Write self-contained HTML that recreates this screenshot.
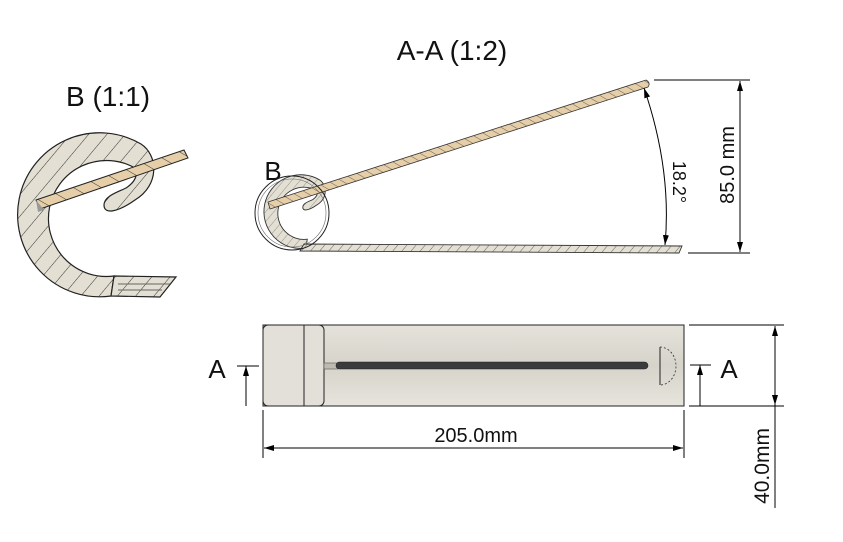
<!DOCTYPE html>
<html><head><meta charset="utf-8"><style>
html,body{margin:0;padding:0;background:#fff;}
svg{display:block;}
text{font-family:"Liberation Sans",Arial,sans-serif;fill:#111;}
</style></head><body>
<svg width="843" height="542" viewBox="0 0 843 542" xmlns="http://www.w3.org/2000/svg">
<defs>
<pattern id="h1" width="14" height="14" patternUnits="userSpaceOnUse" patternTransform="rotate(40)">
<rect width="14" height="14" fill="#e3dfd3"/><line x1="0" y1="0" x2="0" y2="14" stroke="#333" stroke-width="1"/></pattern>
<pattern id="h2" width="7" height="7" patternUnits="userSpaceOnUse" patternTransform="rotate(40)">
<rect width="7" height="7" fill="#e3dfd3"/><line x1="0" y1="0" x2="0" y2="7" stroke="#444" stroke-width="0.8"/></pattern>
<pattern id="w1" width="14" height="14" patternUnits="userSpaceOnUse" patternTransform="rotate(-60)">
<rect width="14" height="14" fill="#e6cfa8"/><line x1="0" y1="0" x2="0" y2="14" stroke="#333" stroke-width="1"/></pattern>
<pattern id="w2" width="7" height="7" patternUnits="userSpaceOnUse" patternTransform="rotate(-60)">
<rect width="7" height="7" fill="#e6cfa8"/><line x1="0" y1="0" x2="0" y2="7" stroke="#444" stroke-width="0.8"/></pattern>
<linearGradient id="bg" x1="0" y1="0" x2="0" y2="1">
<stop offset="0" stop-color="#e4e2da"/><stop offset="0.5" stop-color="#d6d3ca"/><stop offset="1" stop-color="#e6e4dc"/></linearGradient>
<marker id="ar" viewBox="0 0 10 10" refX="10" refY="5" markerWidth="10" markerHeight="10" orient="auto-start-reverse" markerUnits="userSpaceOnUse">
<path d="M0,2 L10,5 L0,8 Z" fill="#000"/></marker>
</defs>

<!-- Titles -->
<text x="452" y="60" font-size="28" text-anchor="middle">A-A (1:2)</text>
<text x="108" y="106" font-size="28" text-anchor="middle">B (1:1)</text>

<!-- Detail B -->
<path d="M111,296 A82,82 0 1 1 141,144 C158,155 160,185 135,200 C118,212 104,215 104,205 C104,196 118,192 126,188 C135,182 138,175 135,168 A58,58 0 1 0 114,276 Z" fill="url(#h1)" stroke="#222" stroke-width="1.2"/>
<path d="M114,276 L176,277 L160,297 L111,296 Z" fill="url(#h1)" stroke="#222" stroke-width="1.2"/>
<path d="M118,284 L170,284 M118,290 L162,290" stroke="#666" stroke-width="1"/>
<path d="M36,200 L184,150 L188,158 L40,209 Z" fill="url(#w1)" stroke="#222" stroke-width="1"/>
<path d="M36,200 L44,210 L38,212 Z" fill="#999"/>

<!-- Section A-A -->
<g transform="translate(256,115) scale(0.45)">
<path d="M111,296 A82,82 0 1 1 141,144 C158,155 160,185 135,200 C118,212 104,215 104,205 C104,196 118,192 126,188 C135,182 138,175 135,168 A58,58 0 1 0 114,276 Z" fill="url(#h1)" stroke="#333" stroke-width="2"/>
</g>
<path d="M268,202 L646,80 Q651,83 648,87 L270,209 Z" fill="url(#w2)" stroke="#333" stroke-width="0.8"/>
<path d="M304,244 L682,246 L679,253 L300,251 Z" fill="url(#h2)" stroke="#333" stroke-width="0.9"/>
<circle cx="292" cy="213" r="37" fill="none" stroke="#222" stroke-width="1"/>
<circle cx="292" cy="213" r="34" fill="none" stroke="#666" stroke-width="0.6"/>
<text x="273" y="180" font-size="26" text-anchor="middle">B</text>

<!-- angle -->
<path d="M644,88 Q672,170 665,245" fill="none" stroke="#000" stroke-width="1" marker-start="url(#ar)" marker-end="url(#ar)"/>
<text transform="translate(673,182) rotate(90)" font-size="18" text-anchor="middle">18.2°</text>
<!-- 85.0 mm -->
<path d="M654,80 L750,80 M688,253 L750,253" stroke="#000" stroke-width="1"/>
<line x1="740" y1="81" x2="740" y2="252" stroke="#000" stroke-width="1" marker-start="url(#ar)" marker-end="url(#ar)"/>
<text transform="translate(734,165) rotate(-90)" font-size="20" text-anchor="middle">85.0 mm</text>

<!-- Plan view -->
<rect x="263" y="325" width="421" height="81" fill="url(#bg)" stroke="#222" stroke-width="1"/>
<rect x="263" y="325" width="61" height="81" rx="5" fill="#e2e0d8" stroke="#222" stroke-width="1"/>
<line x1="304" y1="325" x2="304" y2="406" stroke="#222" stroke-width="1"/>
<rect x="324" y="363" width="14" height="6" fill="#bdbab2" stroke="#555" stroke-width="0.6"/>
<rect x="336" y="362" width="312" height="7" rx="3.5" fill="#3b3b3b" stroke="#222" stroke-width="0.6"/>
<line x1="660" y1="347" x2="660" y2="385" stroke="#222" stroke-width="1"/>
<path d="M660,347 A16,19 0 0 1 660,385" fill="none" stroke="#333" stroke-width="0.8" stroke-dasharray="2,2"/>

<!-- A markers -->
<line x1="237" y1="366" x2="259" y2="366" stroke="#000" stroke-width="1"/>
<line x1="246" y1="366" x2="246" y2="406" stroke="#000" stroke-width="1" marker-start="url(#ar)"/>
<text x="217" y="378" font-size="26" text-anchor="middle">A</text>
<line x1="690" y1="365" x2="711" y2="365" stroke="#000" stroke-width="1"/>
<line x1="700" y1="365" x2="700" y2="406" stroke="#000" stroke-width="1" marker-start="url(#ar)"/>
<text x="729" y="378" font-size="26" text-anchor="middle">A</text>

<!-- 40.0mm -->
<path d="M689,325 L784,325 M689,406 L784,406" stroke="#000" stroke-width="1"/>
<line x1="775" y1="326" x2="775" y2="405" stroke="#000" stroke-width="1" marker-start="url(#ar)" marker-end="url(#ar)"/>
<line x1="775" y1="405" x2="775" y2="508" stroke="#000" stroke-width="1"/>
<text transform="translate(769,466) rotate(-90)" font-size="21" text-anchor="middle">40.0mm</text>

<!-- 205.0mm -->
<path d="M263,410 L263,458 M684,410 L684,458" stroke="#000" stroke-width="1"/>
<line x1="264" y1="448" x2="683" y2="448" stroke="#000" stroke-width="1" marker-start="url(#ar)" marker-end="url(#ar)"/>
<text x="476" y="442" font-size="20" text-anchor="middle">205.0mm</text>
</svg>
</body></html>
